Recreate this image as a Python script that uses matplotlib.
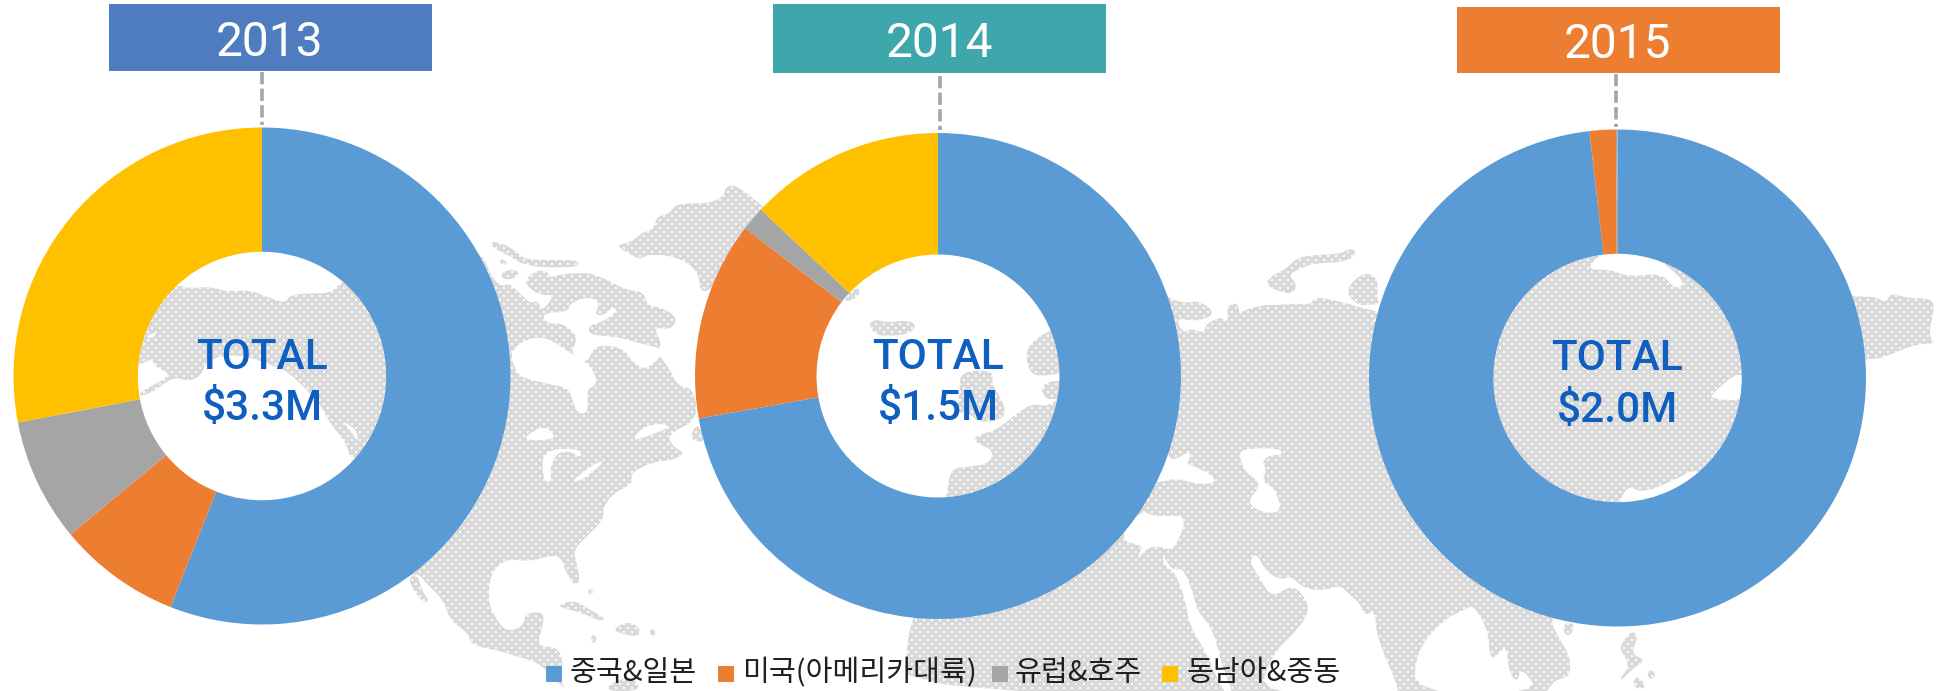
import numpy as np
import matplotlib
matplotlib.use("Agg")
import matplotlib.pyplot as plt
from matplotlib.patches import Polygon, Rectangle, PathPatch
from matplotlib.path import Path

W, H = 1936, 691

# ---- data -----
categories = ['중국&일본', '미국(아메리카대륙)', '유럽&호주', '동남아&중동']
colors = ['#5B9BD5', '#ED7D31', '#A5A5A5', '#FFC000']
years = ['2013', '2014', '2015']
totals = ['$3.3M', '$1.5M', '$2.0M']
values_2013 = [56.0, 8.0, 8.0, 28.0]
values_2014 = [72.2, 13.2, 1.6, 13.0]
values_2015 = [98.2, 1.7, 0.1, 0.0]
year_colors = ['#4F7BBF', '#3DA7AC', '#ED7D31']

# ---- layout (pixels) -----
centers = [(262, 376), (938, 376), (1617.5, 378)]
radii = [248.5, 243, 248.5]
boxes = [(109, 4, 432, 70.5), (773, 4, 1106, 73), (1457, 7, 1780, 73)]
year_x = [270, 939, 1618]
year_base = [56, 57, 58]
dashes = [(262, 72, 125), (940, 76, 130), (1616, 74, 127)]
total_base = [(369, 420), (369, 420), (370, 422)]
legend_sq = [546, 718, 992, 1162]
legend_tx = [570, 742, 1015, 1186]


def Z(x0, y0, pts, sx=3.0, sy=3.0):
    return [(x0 + x / sx, y0 + y / sy) for x, y in pts]


def chaikin(p, n=2):
    p = np.asarray(p, float)
    for _ in range(n):
        q = np.roll(p, -1, axis=0)
        a = 0.75 * p + 0.25 * q
        b = 0.25 * p + 0.75 * q
        p = np.empty((2 * len(a), 2))
        p[0::2] = a
        p[1::2] = b
    return p


# ---- decorative world map outline (pixels) -----
canada = (
    Z(440, 180, [(100, 210), (130, 230), (160, 300), (190, 320), (205, 308), (245, 345), (270, 370), (295, 362),
                 (305, 395), (345, 345), (300, 345), (262, 320), (258, 295), (290, 272), (320, 272), (332, 295),
                 (345, 285), (430, 278), (470, 285), (520, 310), (560, 330), (610, 335), (625, 380), (660, 380),
                 (715, 415), (690, 450), (640, 440), (665, 490), (655, 505), (660, 530), (690, 570), (715, 620),
                 (760, 625), (775, 718), (680, 765), (700, 800), (735, 820), (700, 840), (640, 845), (570, 880)])
    + Z(400, 450, [(700, 100), (640, 130), (610, 170), (610, 210), (560, 260), (520, 300), (530, 340), (540, 390),
                   (525, 410), (495, 360), (485, 325), (460, 315), (385, 335), (320, 325), (270, 370), (265, 460),
                   (290, 510), (320, 545), (370, 530), (375, 490), (430, 485), (430, 520), (410, 590), (470, 590),
                   (490, 630), (480, 690), (500, 723), (420, 640), (370, 625), (290, 600), (215, 585), (205, 550),
                   (150, 510), (130, 450), (80, 400), (50, 365), (0, 395)])
    + [(440, 480)]
)
greenland = Z(440, 180, [(535, 195), (575, 185), (610, 155), (640, 150), (650, 110), (690, 100), (710, 70), (810, 70),
                         (850, 50), (860, 15), (900, 20), (1050, 150), (900, 250), (830, 310), (800, 335), (780, 330),
                         (775, 280), (740, 245), (680, 225), (620, 225), (600, 238), (575, 225), (540, 205)])
arctic = [
    Z(440, 180, [(150, 182), (200, 195), (240, 225), (260, 238), (330, 240), (410, 240), (418, 255), (395, 262),
                 (300, 262), (240, 250), (205, 225), (160, 205)]),
    Z(440, 180, [(175, 240), (190, 238), (203, 250), (190, 258)]),
    Z(440, 180, [(180, 285), (205, 268), (238, 275), (230, 292), (195, 300)]),
    Z(440, 180, [(745, 778), (775, 725), (800, 790)]),
]
carib = [
    Z(400, 450, [(25, 385), (50, 370), (70, 430), (88, 450), (72, 460), (40, 420)]),
    Z(400, 450, [(475, 465), (525, 450), (570, 480), (618, 505), (600, 514), (550, 490), (490, 475)]),
    Z(400, 450, [(635, 540), (680, 515), (718, 530), (718, 560), (680, 555)]),
    Z(400, 450, [(748, 545), (758, 535), (768, 550), (756, 562)]),
    Z(400, 450, [(570, 565), (582, 552), (592, 568), (580, 582)]),
    Z(400, 450, [(562, 425), (572, 416), (584, 426), (572, 434)]),
    [(603, 691), (617, 680), (633, 677), (642, 691)],
]
alaska = Z(130, 260, [(145, 75), (180, 85), (240, 80), (290, 95), (360, 90), (410, 110), (465, 130), (480, 105),
                      (540, 100), (600, 100), (630, 70), (700, 30), (800, 50), (800, 600), (660, 600), (650, 550),
                      (600, 490), (570, 430), (480, 340), (440, 320), (320, 280), (230, 300), (215, 345), (180, 365),
                      (130, 350), (70, 395), (30, 410), (30, 395), (100, 360), (120, 340), (75, 320), (65, 295),
                      (30, 315), (-20, 340), (20, 100)])
eurasia = (
    Z(810, 250, [(490, 560), (560, 540), (620, 490), (670, 460), (705, 470), (745, 450), (1050, 120)])
    + Z(1140, 240, [(80, 170), (130, 190), (180, 182), (228, 222), (170, 245), (105, 232), (130, 280), (155, 265),
                    (190, 280), (200, 250), (245, 230), (265, 250), (260, 195), (295, 188), (298, 230), (310, 210),
                    (370, 195), (420, 195), (470, 190), (505, 195), (530, 172), (570, 178), (620, 190), (650, 200),
                    (720, 215), (700, 245), (680, 248), (760, 240)])
    + [(1520, 230), (1617, 190), (1760, 230), (1815, 285)]
    + Z(1800, 270, [(150, 80), (230, 80), (255, 100), (275, 68), (320, 85), (390, 85), (405, 110), (385, 190),
                    (405, 222), (350, 222), (280, 250), (230, 268), (190, 265)])
    + [(1800, 400), (1780, 500), (1650, 600), (1560, 605)]
    + Z(1400, 480, [(450, 420), (480, 480), (510, 530), (510, 590), (465, 600), (440, 633)])
    + [(1547, 695), (905, 695), (907, 640), (913, 620)]
    + Z(810, 250, [(410, 750), (420, 655), (480, 650), (540, 640), (550, 600), (500, 580)])
)
europe_isl = [
    Z(810, 250, [(175, 220), (200, 208), (230, 218), (290, 210), (320, 225), (300, 250), (250, 258), (195, 255)]),
    Z(810, 250, [(100, 155), (120, 125), (145, 112), (150, 130), (130, 150)]),
    Z(810, 250, [(450, 375), (490, 360), (550, 365), (545, 400), (570, 440), (590, 490), (560, 515), (500, 515),
                 (480, 490), (440, 490), (450, 420)]),
    Z(810, 250, [(650, 290), (715, 240), (760, 240), (800, 360), (720, 375), (670, 378), (650, 340)]),
    Z(810, 250, [(695, 410), (725, 390), (790, 400), (790, 440), (725, 450), (700, 440)]),
    Z(1140, 240, [(380, 125), (400, 105), (440, 85), (470, 55), (520, 45), (600, 42), (630, 25), (650, 35), (625, 65),
                  (520, 70), (480, 85), (445, 105), (468, 130), (465, 155), (440, 162), (385, 140)]),
    Z(1140, 240, [(615, 150), (670, 95), (715, 115), (710, 175), (720, 190), (690, 195), (650, 195)]),
]
asia_isl = [
    Z(1400, 480, [(490, 430), (525, 430), (512, 468), (492, 462)]),
    Z(1400, 480, [(695, 450), (715, 470), (700, 500), (700, 525), (735, 540), (700, 565), (665, 600), (660, 595),
                  (690, 555), (660, 510), (665, 490)]),
    Z(1400, 480, [(740, 580), (755, 568), (768, 585), (752, 600)]),
    Z(1400, 480, [(700, 600), (715, 590), (738, 615), (725, 628), (705, 622)]),
    Z(1400, 480, [(330, 630), (340, 620), (350, 635), (335, 640)]),
]
land = [canada, greenland, alaska, eurasia] + arctic + carib + europe_isl + asia_isl

white_water = [
    # Hudson bay and channels
    Z(440, 180, [(210, 515), (260, 475), (325, 472), (390, 520), (440, 545), (470, 590), (465, 620), (440, 625),
                 (445, 700), (410, 700), (395, 650), (385, 625), (320, 610), (250, 595), (225, 570)]),
    Z(440, 180, [(390, 370), (440, 350), (482, 365), (462, 405), (495, 405), (515, 382), (535, 390), (490, 425),
                 (447, 435), (447, 465), (530, 470), (600, 490), (665, 505), (665, 530), (615, 570), (580, 548),
                 (550, 505), (490, 495), (460, 505), (442, 550), (390, 525), (415, 470), (370, 430), (320, 430),
                 (305, 400), (385, 395)]),
    # Lakes
    Z(440, 180, [(255, 770), (310, 735), (350, 770), (320, 780), (265, 780)]),
    Z(440, 180, [(305, 810), (420, 805), (425, 835), (395, 815), (355, 815), (330, 860), (335, 905), (310, 905)]),
    Z(440, 180, [(390, 905), (480, 840), (490, 850), (420, 905)]),
    Z(440, 180, [(580, 775), (610, 740), (665, 730), (690, 740), (660, 755), (590, 780)]),
    # Alaska inlet
    Z(130, 260, [(45, 230), (80, 215), (70, 235)]),
    Z(130, 260, [(635, 480), (680, 510), (685, 548), (660, 510)]),
    # Black, Caspian, Mediterranean, Red seas, Indian ocean
    Z(1090, 450, [(230, 0), (245, 35), (295, 5), (305, 15), (285, 40), (340, 60), (375, 85), (370, 100), (320, 102),
                  (260, 85), (215, 95), (170, 100)]),
    Z(1090, 450, [(445, 10), (470, -5), (570, -5), (578, 15), (540, 15), (515, 35), (530, 60), (515, 95), (555, 115),
                  (575, 180), (540, 192), (490, 175), (475, 150), (510, 110), (495, 85), (465, 65)]),
    Z(1090, 450, [(150, 180), (195, 200), (280, 195), (282, 230), (258, 285), (240, 300), (205, 288), (170, 295),
                  (140, 330), (150, 305), (160, 288), (85, 270)]),
    Z(1090, 450, [(215, 310), (240, 350), (255, 360), (280, 355), (310, 430), (320, 480), (370, 540), (400, 660),
                  (430, 730), (400, 730), (350, 610), (300, 530), (285, 450), (255, 365), (225, 350)]),
    Z(1090, 450, [(480, 330), (500, 310), (525, 360), (570, 390), (605, 378), (640, 415), (700, 422), (750, 405),
                  (775, 430), (810, 460), (825, 498), (855, 480), (860, 560), (920, 700), (925, 735), (510, 735),
                  (540, 620), (640, 520), (660, 465), (610, 400), (545, 445), (510, 385), (490, 355)]),
    Z(1400, 480, [(50, 510), (130, 420), (200, 385), (220, 375), (265, 450), (270, 550), (320, 490), (325, 570),
                  (350, 610), (365, 560), (420, 640), (40, 640)]),
    # Northern coast and inlets inside the 2015 ring
    Z(968, 0, [(1000, 612), (1030, 570), (1100, 570), (1165, 640), (1145, 658), (1125, 620), (1070, 628), (1040, 612)],
      1.62, 2.27),
    Z(968, 0, [(1200, 900), (1255, 835), (1262, 900), (1240, 910), (1210, 905)], 1.62, 2.27),
    Z(968, 0, [(1050, 1150), (1070, 1100), (1090, 1120), (1145, 1090), (1175, 1065), (1195, 1080), (1130, 1150)],
      1.62, 2.27),
]

plt.rcParams['font.family'] = ['Roboto', 'DejaVu Sans']
fig = plt.figure(figsize=(W / 100, H / 100), dpi=100, facecolor='white')
ax = fig.add_axes([0, 0, 1, 1])
ax.set_xlim(0, W)
ax.set_ylim(H, 0)
ax.axis('off')

# map: fill, dot texture, water
verts, codes = [], []
for poly in land:
    p = chaikin(poly)
    area = 0.5 * np.sum(p[:, 0] * np.roll(p[:, 1], -1) - np.roll(p[:, 0], -1) * p[:, 1])
    if area < 0:
        p = p[::-1]
    verts.extend(p.tolist() + [p[0].tolist()])
    codes.extend([Path.MOVETO] + [Path.LINETO] * (len(p) - 1) + [Path.CLOSEPOLY])
land_path = Path(verts, codes)
land_patch = PathPatch(land_path, fc='#D9D9D9', ec='none', zorder=1)
ax.add_patch(land_patch)

gx, gy = np.meshgrid(np.arange(0, W, 8.0), np.arange(0, H, 8.0))
dot_x = np.r_[gx.ravel(), gx.ravel() + 4]
dot_y = np.r_[gy.ravel(), gy.ravel() + 4]
dots = ax.scatter(dot_x, dot_y, s=3.0, marker='s', c='white', linewidths=0, zorder=2)
dots.set_clip_path(land_patch)

for poly in white_water:
    ax.add_patch(Polygon(chaikin(poly), closed=True, fc='white', ec='none', zorder=3))

# header boxes, dashed connectors, year and total labels
for i, yr in enumerate(years):
    x0, y0, x1, y1 = boxes[i]
    ax.add_patch(Rectangle((x0, y0), x1 - x0, y1 - y0, fc=year_colors[i], ec='none', zorder=4))
    ax.text(year_x[i], year_base[i], yr, color='white', fontsize=34.5, fontweight='normal',
            ha='center', va='baseline', zorder=6)
    dx, d0, d1 = dashes[i]
    ax.plot([dx, dx], [d0, d1], color='#A5A5A5', lw=2.6, ls=(0, (3.4, 1.2)), zorder=4, solid_capstyle='butt')

# doughnuts
all_values = [values_2013, values_2014, values_2015]
for i, vals in enumerate(all_values):
    cx, cy = centers[i]
    r = radii[i]
    a = fig.add_axes([(cx - r) / W, 1 - (cy + r) / H, 2 * r / W, 2 * r / H], zorder=5)
    a.patch.set_alpha(0)
    a.pie(vals, colors=colors, startangle=90, counterclock=False, radius=1.0, normalize=True,
          wedgeprops=dict(width=0.5, edgecolor='none', linewidth=0))
    a.set_xlim(-1, 1)
    a.set_ylim(-1, 1)
    a.set_aspect('equal')
    a.axis('off')

overlay = fig.add_axes([0, 0, 1, 1], zorder=8)
overlay.set_xlim(0, W)
overlay.set_ylim(H, 0)
overlay.axis('off')
overlay.patch.set_alpha(0)
for i, tot in enumerate(totals):
    cx = centers[i][0]
    b1, b2 = total_base[i]
    overlay.text(cx, b1, 'TOTAL', color='#0F5FC0', fontsize=30.5, fontweight='medium', ha='center', va='baseline')
    overlay.text(cx, b2, tot, color='#0F5FC0', fontsize=30.5, fontweight='medium', ha='center', va='baseline')

# legend
for sq, tx, name, col in zip(legend_sq, legend_tx, categories, colors):
    overlay.add_patch(Rectangle((sq, 666), 16, 16, fc=col, ec='none'))
    overlay.text(tx, 681, name, color='#1F1F1F', fontsize=21, ha='left', va='baseline',
                 family=['Noto Sans CJK KR', 'DejaVu Sans'])

fig.savefig('out.png', dpi=100, facecolor='white')
